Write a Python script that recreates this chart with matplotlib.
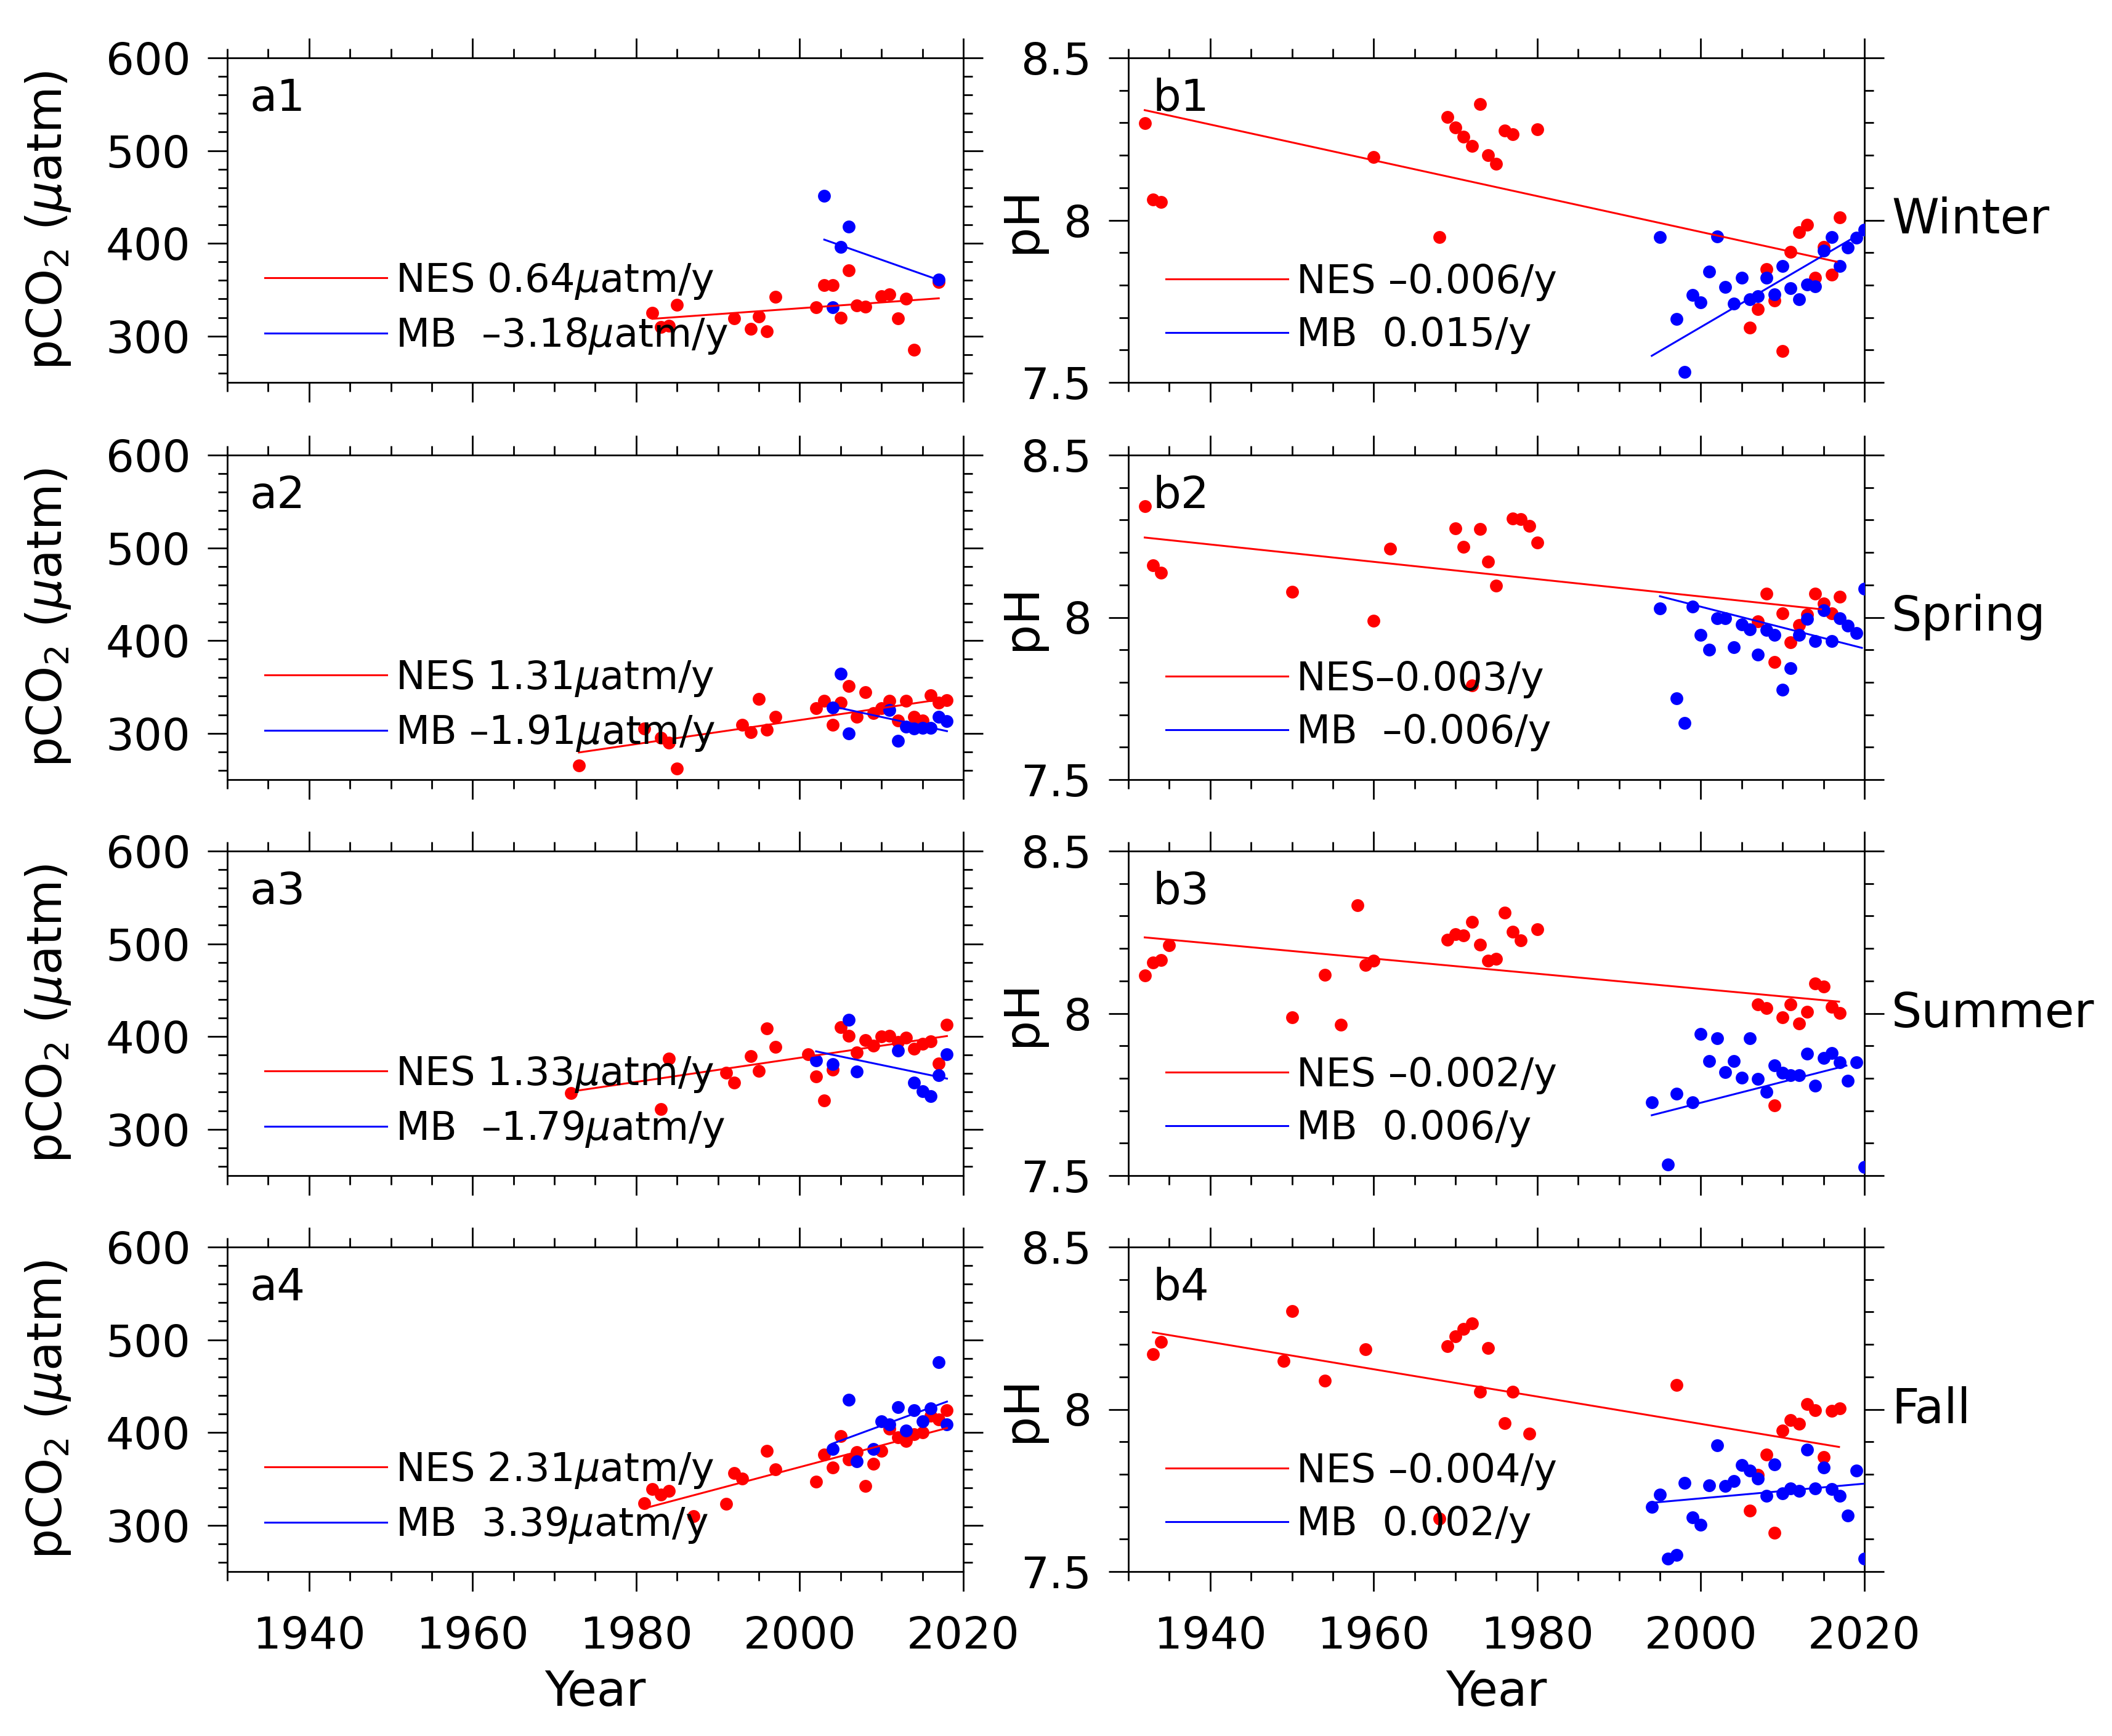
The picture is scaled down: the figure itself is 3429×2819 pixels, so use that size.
import matplotlib
matplotlib.use("Agg")
import matplotlib.pyplot as plt
from matplotlib.ticker import MultipleLocator
from matplotlib.lines import Line2D

plt.rcParams['font.family'] = ['DejaVu Sans']
plt.rcParams['mathtext.fontset'] = 'dejavusans'

# ---- pCO2 panels (a1-a4) ----
a1_nes_year = [1982, 1983, 1984, 1985, 1992, 1994, 1995, 1996, 1997, 2002, 2003, 2004, 2005,
               2006, 2007, 2008, 2010, 2011, 2012, 2013, 2014, 2017]
a1_nes_val = [325, 310, 311, 334, 319, 308, 321, 305, 342, 331, 355, 355, 320,
              371, 333, 332, 343, 345, 319, 340, 285, 358]
a1_mb_year = [2003, 2004, 2005, 2006, 2017]
a1_mb_val = [451, 331, 396, 418, 361]

a2_nes_year = [1973, 1981, 1983, 1984, 1985, 1993, 1994, 1995, 1996, 1997, 2002, 2003, 2004, 2005,
               2006, 2007, 2008, 2009, 2010, 2011, 2012, 2013, 2014, 2015, 2016, 2017, 2018]
a2_nes_val = [265, 305, 295, 290, 262, 309, 301, 337, 304, 318, 327, 335, 309, 333,
              351, 318, 344, 322, 327, 335, 314, 335, 318, 314, 341, 333, 336]
a2_mb_year = [2004, 2005, 2006, 2011, 2012, 2013, 2014, 2015, 2016, 2017, 2018]
a2_mb_val = [328, 364, 300, 325, 292, 307, 305, 306, 306, 318, 313]

a3_nes_year = [1972, 1983, 1984, 1991, 1992, 1994, 1995, 1996, 1997, 2001, 2002, 2003, 2004, 2005,
               2006, 2007, 2008, 2009, 2010, 2011, 2012, 2013, 2014, 2015, 2016, 2017, 2018]
a3_nes_val = [339, 322, 376, 361, 350, 379, 363, 409, 389, 381, 357, 331, 364, 410,
              401, 383, 396, 390, 400, 401, 394, 399, 387, 392, 395, 371, 413]
a3_mb_year = [2002, 2004, 2006, 2007, 2012, 2014, 2015, 2016, 2017, 2018]
a3_mb_val = [374, 370, 418, 362, 385, 350, 341, 336, 358, 381]

a4_nes_year = [1981, 1982, 1983, 1984, 1987, 1991, 1992, 1993, 1996, 1997, 2002, 2003, 2004, 2005,
               2006, 2007, 2008, 2009, 2010, 2011, 2012, 2013, 2014, 2015, 2016, 2017, 2018]
a4_nes_val = [324, 339, 333, 337, 310, 323, 356, 350, 380, 360, 347, 376, 362, 396,
              371, 379, 342, 366, 380, 404, 395, 391, 398, 400, 418, 414, 424]
a4_mb_year = [2004, 2006, 2007, 2009, 2010, 2011, 2012, 2013, 2014, 2015, 2016, 2017, 2018]
a4_mb_val = [382, 435, 369, 382, 412, 409, 427, 402, 424, 412, 426, 476, 409]

# ---- pH panels (b1-b4) ----
b1_nes_year = [1932, 1933, 1934, 1960, 1968, 1969, 1970, 1971, 1972, 1973, 1974, 1975, 1976, 1977,
               1980, 2006, 2007, 2008, 2009, 2010, 2011, 2012, 2013, 2014, 2015, 2016, 2017]
b1_nes_val = [8.299, 8.063, 8.056, 8.195, 7.947, 8.317, 8.286, 8.257, 8.228, 8.357, 8.200, 8.173,
              8.276, 8.265, 8.279, 7.669, 7.725, 7.849, 7.752, 7.597, 7.902, 7.963, 7.985, 7.823,
              7.918, 7.832, 8.008]
b1_mb_year = [1995, 1997, 1998, 1999, 2000, 2001, 2002, 2003, 2004, 2005, 2006, 2007, 2008,
              2009, 2010, 2011, 2012, 2013, 2014, 2015, 2016, 2017, 2018, 2019, 2020]
b1_mb_val = [7.947, 7.696, 7.533, 7.769, 7.747, 7.841, 7.950, 7.794, 7.743, 7.823, 7.756, 7.765,
             7.823, 7.772, 7.859, 7.790, 7.756, 7.801, 7.796, 7.907, 7.947, 7.859, 7.915, 7.945,
             7.970]

b2_nes_year = [1932, 1933, 1934, 1950, 1960, 1962, 1970, 1971, 1972, 1973, 1974, 1975, 1977, 1978,
               1979, 1980, 2007, 2008, 2009, 2010, 2011, 2012, 2013, 2014, 2015, 2016, 2017]
b2_nes_val = [8.342, 8.160, 8.138, 8.079, 7.990, 8.211, 8.275, 8.218, 7.790, 8.273, 8.171, 8.098,
              8.304, 8.302, 8.281, 8.230, 7.988, 8.074, 7.862, 8.012, 7.923, 7.977, 8.009, 8.074,
              8.042, 8.012, 8.063]
b2_mb_year = [1995, 1997, 1998, 1999, 2000, 2001, 2002, 2003, 2004, 2005, 2006, 2007, 2008,
              2009, 2010, 2011, 2012, 2013, 2014, 2015, 2016, 2017, 2018, 2019, 2020]
b2_mb_val = [8.027, 7.750, 7.674, 8.034, 7.945, 7.901, 7.998, 7.998, 7.908, 7.979, 7.963, 7.886,
             7.961, 7.945, 7.777, 7.844, 7.945, 7.996, 7.926, 8.021, 7.926, 7.998, 7.974, 7.952,
             8.089]

b3_nes_year = [1932, 1933, 1934, 1935, 1950, 1954, 1956, 1958, 1959, 1960, 1969, 1970, 1971, 1972,
               1973, 1974, 1975, 1976, 1977, 1978, 1980, 2007, 2008, 2009, 2010, 2011, 2012, 2013,
               2014, 2015, 2016, 2017]
b3_nes_val = [8.116, 8.157, 8.165, 8.209, 7.988, 8.118, 7.965, 8.333, 8.149, 8.162, 8.227, 8.243,
              8.240, 8.281, 8.212, 8.163, 8.168, 8.310, 8.252, 8.225, 8.259, 8.027, 8.016, 7.717,
              7.988, 8.028, 7.969, 8.005, 8.092, 8.082, 8.019, 8.001]
b3_mb_year = [1994, 1996, 1997, 1999, 2000, 2001, 2002, 2003, 2004, 2005, 2006, 2007, 2008,
              2009, 2010, 2011, 2012, 2013, 2014, 2015, 2016, 2017, 2018, 2019, 2020]
b3_mb_val = [7.726, 7.535, 7.753, 7.726, 7.937, 7.853, 7.923, 7.819, 7.853, 7.802, 7.924, 7.797,
             7.759, 7.839, 7.817, 7.810, 7.810, 7.875, 7.777, 7.863, 7.878, 7.850, 7.792, 7.850,
             7.526]

b4_nes_year = [1933, 1934, 1949, 1950, 1954, 1959, 1968, 1969, 1970, 1971, 1972, 1973, 1974, 1976,
               1977, 1979, 1997, 2006, 2007, 2008, 2009, 2010, 2011, 2012, 2013, 2014, 2015, 2016,
               2017]
b4_nes_val = [8.169, 8.207, 8.149, 8.302, 8.089, 8.185, 7.664, 8.195, 8.224, 8.247, 8.265, 8.054,
              8.189, 7.958, 8.055, 7.925, 8.075, 7.688, 7.798, 7.860, 7.620, 7.935, 7.967, 7.956,
              8.016, 7.998, 7.853, 7.996, 8.003]
b4_mb_year = [1994, 1995, 1996, 1997, 1998, 1999, 2000, 2001, 2002, 2003, 2004, 2005, 2006, 2007,
              2008, 2009, 2010, 2011, 2012, 2013, 2014, 2015, 2016, 2017, 2018, 2019, 2020]
b4_mb_val = [7.700, 7.738, 7.540, 7.551, 7.773, 7.667, 7.644, 7.765, 7.889, 7.763, 7.778, 7.829,
             7.811, 7.787, 7.733, 7.831, 7.741, 7.756, 7.749, 7.876, 7.756, 7.820, 7.755, 7.733,
             7.673, 7.811, 7.540]

# trend lines: (start year, end year) and (start value, end value)
panel_names = ['a1', 'a2', 'a3', 'a4', 'b1', 'b2', 'b3', 'b4']
nes_trend_year = [(1982, 2017), (1973, 2017), (1972, 2018), (1981, 2018),
                  (1932, 2016.6), (1932, 2014.7), (1932, 2016.9), (1933, 2016.9)]
nes_trend_val = [(318.6, 340.7), (279.3, 336.2), (340.6, 400.5), (318.2, 404.8),
                 (8.339, 7.872), (8.246, 8.025), (8.234, 8.036), (8.237, 7.884)]
mb_trend_year = [(2003, 2017), (2004, 2018), (2002, 2018), (2004, 2018),
                 (1994, 2019.7), (1995, 2019.7), (1994, 2017.8), (1994, 2020)]
mb_trend_val = [(404.0, 360.5), (329.0, 302.3), (384.0, 354.6), (388.0, 433.3),
                (7.582, 7.961), (8.065, 7.906), (7.686, 7.839), (7.712, 7.771)]

nes_labels = ['NES 0.64$\\mu$atm/y', 'NES 1.31$\\mu$atm/y', 'NES 1.33$\\mu$atm/y', 'NES 2.31$\\mu$atm/y',
              'NES \u20130.006/y', 'NES\u20130.003/y', 'NES \u20130.002/y', 'NES \u20130.004/y']
mb_labels = ['MB  \u20133.18$\\mu$atm/y', 'MB \u20131.91$\\mu$atm/y', 'MB  \u20131.79$\\mu$atm/y',
             'MB  3.39$\\mu$atm/y', 'MB  0.015/y', 'MB  \u20130.006/y', 'MB  0.006/y', 'MB  0.002/y']
seasons = ['Winter', 'Spring', 'Summer', 'Fall']

series = {
    'a1': (a1_nes_year, a1_nes_val, a1_mb_year, a1_mb_val),
    'a2': (a2_nes_year, a2_nes_val, a2_mb_year, a2_mb_val),
    'a3': (a3_nes_year, a3_nes_val, a3_mb_year, a3_mb_val),
    'a4': (a4_nes_year, a4_nes_val, a4_mb_year, a4_mb_val),
    'b1': (b1_nes_year, b1_nes_val, b1_mb_year, b1_mb_val),
    'b2': (b2_nes_year, b2_nes_val, b2_mb_year, b2_mb_val),
    'b3': (b3_nes_year, b3_nes_val, b3_mb_year, b3_mb_val),
    'b4': (b4_nes_year, b4_nes_val, b4_mb_year, b4_mb_val),
}

W, H = 3430, 2819
fig = plt.figure(figsize=(W / 200, H / 200), dpi=200)

col_left = [369, 1832]
col_width = 1195
row_top = [94, 739, 1382, 2025]
ax_h = 527

red = '#ff0000'
blue = '#0000ff'

for i, name in enumerate(panel_names):
    col = 0 if name[0] == 'a' else 1
    row = int(name[1]) - 1
    left = col_left[col] / W
    bottom = 1 - (row_top[row] + ax_h) / H
    ax = fig.add_axes([left, bottom, col_width / W, ax_h / H])

    nes_x, nes_y, mb_x, mb_y = series[name]
    ax.plot(nes_x, nes_y, 'o', color=red, ms=7.5, mec='none', zorder=2)
    ax.plot(mb_x, mb_y, 'o', color=blue, ms=7.5, mec='none', zorder=3)
    ax.plot(nes_trend_year[i], nes_trend_val[i], color=red, lw=1.1, zorder=4)
    ax.plot(mb_trend_year[i], mb_trend_val[i], color=blue, lw=1.1, zorder=4)

    ax.set_xlim(1930, 2020)
    ax.xaxis.set_major_locator(MultipleLocator(20))
    ax.xaxis.set_minor_locator(MultipleLocator(5))
    if col == 0:
        ax.set_ylim(250, 600)
        ax.yaxis.set_major_locator(MultipleLocator(100))
        ax.yaxis.set_minor_locator(MultipleLocator(20))
        ax.set_ylabel('pCO$_2$ ($\\mu$atm)', fontsize=28)
        ax.yaxis.set_label_coords(-0.21, 0.5)
    else:
        ax.set_ylim(7.5, 8.5)
        ax.set_yticks([7.5, 8.0, 8.5])
        ax.set_yticklabels(['7.5', '8', '8.5'])
        ax.yaxis.set_minor_locator(MultipleLocator(0.1))
        ax.set_ylabel('pH', fontsize=28)
        ax.yaxis.set_label_coords(-0.113, 0.5)
        ax.text(1.037, 0.5, seasons[row], transform=ax.transAxes, fontsize=28,
                ha='left', va='center')

    ax.tick_params(which='both', direction='out', top=True, right=True,
                   width=1.0, labelsize=26, pad=10)
    ax.tick_params(which='major', length=11.5)
    ax.tick_params(which='minor', length=5.5)
    if row < 3:
        ax.tick_params(labelbottom=False)
    else:
        ax.tick_params(axis='x', pad=14)
        ax.set_xlabel('Year', fontsize=28)
        ax.xaxis.set_label_coords(0.5, -0.30)
    for s in ax.spines.values():
        s.set_linewidth(1.0)

    ax.text(0.031 if col == 0 else 0.033, 0.837, name, transform=ax.transAxes,
            fontsize=26, ha='left', va='baseline')

    handles = [Line2D([], [], color=red, lw=1.1), Line2D([], [], color=blue, lw=1.1)]
    ax.legend(handles, [nes_labels[i], mb_labels[i]], loc='center left',
              bbox_to_anchor=(0.051, 0.228), frameon=False, fontsize=23,
              borderpad=0, borderaxespad=0, handlelength=3.1, handletextpad=0.22,
              labelspacing=0.38)

fig.savefig('out.png', dpi=200)
